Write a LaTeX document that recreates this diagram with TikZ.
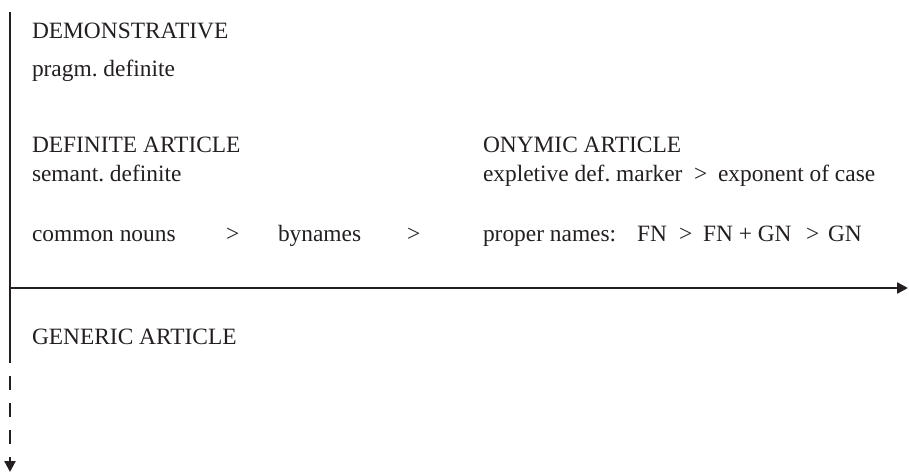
\documentclass[tikz,border=0pt]{standalone}
\usepackage{fontspec}
\setmainfont{Liberation Serif}
\usetikzlibrary{arrows.meta}
\definecolor{ink}{HTML}{231F20}
\frenchspacing
\tikzset{
  lbl/.style={anchor=base west, inner sep=0pt, outer sep=0pt, text=ink,
              font=\fontsize{23.4}{27}\selectfont},
  axis/.style={draw=ink, line width=2.3pt},
  tip/.style={-{Triangle[length=11pt,width=11pt]}}
}
\begin{document}
\begin{tikzpicture}[x=1pt,y=-1pt]
  \useasboundingbox (0,0) rectangle (909,473);

  % axes
  \coordinate (vtop)   at (10,12);
  \coordinate (vsplit) at (10,363);
  \coordinate (vend)   at (10,472);
  \coordinate (hstart) at (9,288);
  \coordinate (hend)   at (908,288);
  \draw[axis] (vtop) -- (vsplit);
  \draw[axis, tip, dash pattern=on 14pt off 13pt, dash phase=14pt] (vsplit) -- (vend);
  \draw[axis, tip] (hstart) -- (hend);

  % upper left block
  \node[lbl] (dem)  at (32,39)  {DEMONSTRATIVE};
  \node[lbl] (prag) at (32,77)  {pragm. definite};
  \node[lbl] (defa) at (32,153) {DEFINITE ARTICLE};
  \node[lbl] (sem)  at (32,182) {semant. definite};

  % onymic block
  \node[lbl] (ony)  at (483,153) {ONYMIC ARTICLE};
  \node[lbl] (expl) at (483,182) {expletive def. marker};
  \node[lbl] (gt1)  at (694,182) {>};
  \node[lbl] (expo) at (718,182) {exponent of case};

  % hierarchy row
  \node[lbl] (cn)   at (32,241)  {common nouns};
  \node[lbl] (gt2)  at (226,241) {>};
  \node[lbl] (byn)  at (278,241) {bynames};
  \node[lbl] (gt3)  at (407,241) {>};
  \node[lbl] (pn)   at (483,241) {proper names:};
  \node[lbl] (fn)   at (637,241) {FN};
  \node[lbl] (gt4)  at (679,241) {>};
  \node[lbl] (fngn) at (703,241) {FN + GN};
  \node[lbl] (gt5)  at (806,241) {>};
  \node[lbl] (gn)   at (828,241) {GN};

  % below the axis
  \node[lbl] (gen)  at (32,344) {GENERIC ARTICLE};
\end{tikzpicture}
\end{document}
